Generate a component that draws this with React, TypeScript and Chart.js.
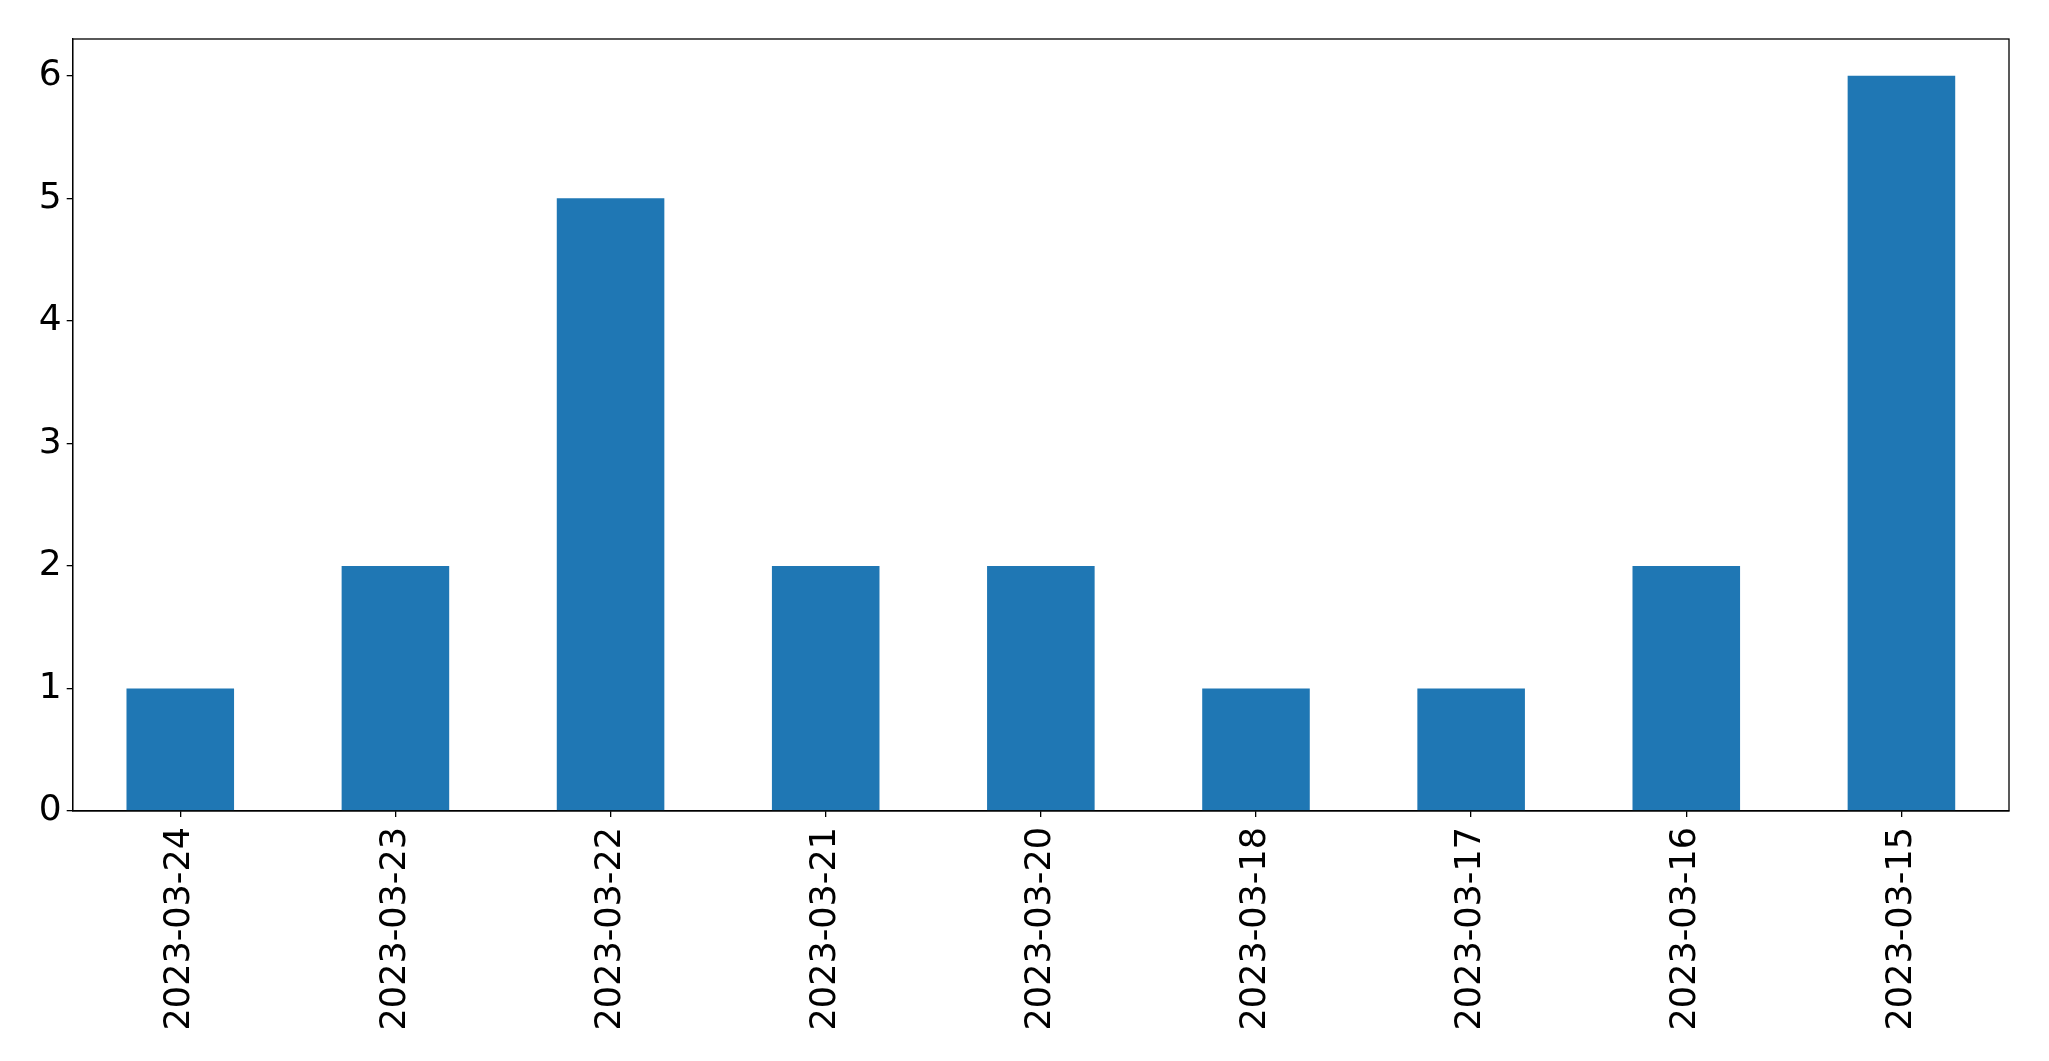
import React, { useEffect, useRef } from "react";
import { Chart, registerables } from "chart.js";

Chart.register(...registerables);

const categories = [
  "2023-03-24",
  "2023-03-23",
  "2023-03-22",
  "2023-03-21",
  "2023-03-20",
  "2023-03-18",
  "2023-03-17",
  "2023-03-16",
  "2023-03-15",
];
const counts = [1, 2, 5, 2, 2, 1, 1, 2, 6];
const yTickValues = [0, 1, 2, 3, 4, 5, 6];
const yMin = 0;
const yMax = 6.3;

const W = 2049;
const H = 1061;
const XFONT = { family: "'DejaVu Sans', sans-serif", size: 35 };
const YFONT = { family: "'DejaVu Sans', sans-serif", size: 36 };

const framePlugin = {
  id: "frame",
  afterDraw(chart: any) {
    const { ctx, chartArea } = chart;
    ctx.save();
    ctx.strokeStyle = "#000";
    ctx.lineWidth = 1.3;
    ctx.strokeRect(
      chartArea.left,
      chartArea.top,
      chartArea.right - chartArea.left,
      chartArea.bottom - chartArea.top
    );
    ctx.restore();
  },
};

export default function App() {
  const ref = useRef<HTMLCanvasElement | null>(null);

  useEffect(() => {
    if (!ref.current) return;
    const chart = new Chart(ref.current, {
      type: "bar",
      data: {
        labels: categories,
        datasets: [
          {
            data: counts,
            backgroundColor: "#1f77b4",
            borderWidth: 0,
            categoryPercentage: 1,
            barPercentage: 0.5,
          },
        ],
      },
      options: {
        responsive: false,
        animation: false,
        devicePixelRatio: 1,
        layout: { padding: { top: 39, right: 40, left: 0, bottom: 0 } },
        plugins: {
          legend: { display: false },
          tooltip: { enabled: false },
          title: { display: false },
        },
        scales: {
          x: {
            type: "category",
            offset: true,
            grid: {
              display: true,
              offset: false,
              drawOnChartArea: false,
              drawTicks: true,
              tickLength: 6,
              color: "#000",
              lineWidth: 1.3,
            },
            border: { display: true, color: "#000", width: 1.3 },
            ticks: {
              minRotation: 90,
              maxRotation: 90,
              autoSkip: false,
              padding: 10,
              color: "#000",
              font: XFONT,
            },
            afterFit(scale: any) {
              scale.height = H - 811;
            },
          },
          y: {
            type: "linear",
            min: yMin,
            max: yMax,
            grid: {
              display: true,
              drawOnChartArea: false,
              drawTicks: true,
              tickLength: 6,
              color: "#000",
              lineWidth: 1.3,
            },
            border: { display: true, color: "#000", width: 1.3 },
            ticks: {
              padding: 5,
              color: "#000",
              font: YFONT,
            },
            afterBuildTicks(scale: any) {
              scale.ticks = yTickValues.map((v) => ({ value: v }));
            },
            afterFit(scale: any) {
              scale.width = 72.7;
            },
          },
        },
      },
      plugins: [framePlugin],
    });
    return () => chart.destroy();
  }, []);

  return (
    <div
      style={{
        position: "fixed",
        left: 0,
        top: 0,
        width: W,
        height: H,
        background: "#fff",
      }}
    >
      <canvas ref={ref} width={W} height={H} style={{ width: W, height: H }} />
    </div>
  );
}
